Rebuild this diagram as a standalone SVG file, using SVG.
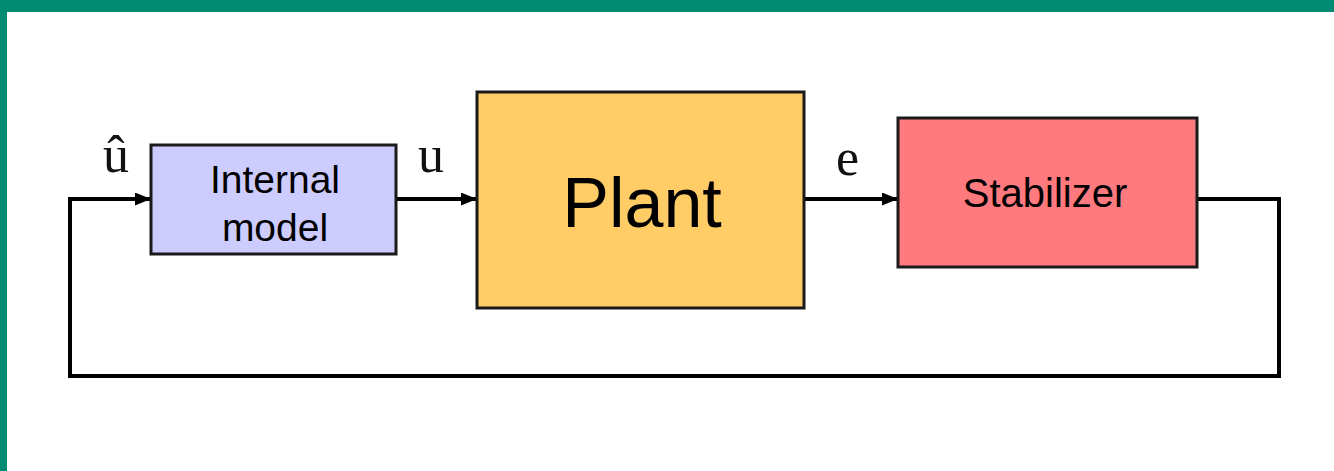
<svg xmlns="http://www.w3.org/2000/svg" width="1334" height="471" viewBox="0 0 1334 471">
<defs>
<style>
.box{stroke:#1a1a1a;stroke-width:3}
.lbl{font-family:"Liberation Sans",Arial,sans-serif;fill:#000;text-anchor:middle}
.sig{font-family:"Liberation Serif","Times New Roman",serif;font-size:52px;fill:#111}
.wire{fill:none;stroke:#000;stroke-width:4;stroke-linejoin:miter}
</style>
<marker id="arr" viewBox="0 0 16 13" refX="15" refY="6.5" markerWidth="16" markerHeight="13" markerUnits="userSpaceOnUse" orient="auto">
<path d="M0,0 L16,6.5 L0,13 Z" fill="#000"/>
</marker>
</defs>
<rect x="0" y="0" width="1334" height="471" fill="#fff"/>
<rect x="0" y="0" width="1334" height="12" fill="#008B72"/>
<rect x="0" y="0" width="7" height="471" fill="#008B72"/>
<g id="connectors">
<path class="wire" d="M1198,199 H1279 V376 H70 V199 H150" marker-end="url(#arr)"/>
<path class="wire" d="M397,199 H476" marker-end="url(#arr)"/>
<path class="wire" d="M805,199 H897" marker-end="url(#arr)"/>
</g>
<g id="internal-model">
<rect class="box" x="151" y="145" width="245" height="109" fill="#CCCCFF"/>
<text class="lbl" x="275" y="193" font-size="39">Internal</text>
<text class="lbl" x="275" y="241" font-size="39">model</text>
</g>
<g id="plant">
<rect class="box" x="477" y="92" width="327" height="216" fill="#FFCC66"/>
<text class="lbl" x="642" y="227" font-size="70">Plant</text>
</g>
<g id="stabilizer">
<rect class="box" x="898" y="118" width="299" height="149" fill="#FF7A7F"/>
<text class="lbl" x="1045" y="207" font-size="40">Stabilizer</text>
</g>
<g id="labels">
<text class="sig" x="103" y="172">û</text>
<text class="sig" x="418" y="172">u</text>
<text class="sig" x="836" y="175">e</text>
</g>
</svg>
